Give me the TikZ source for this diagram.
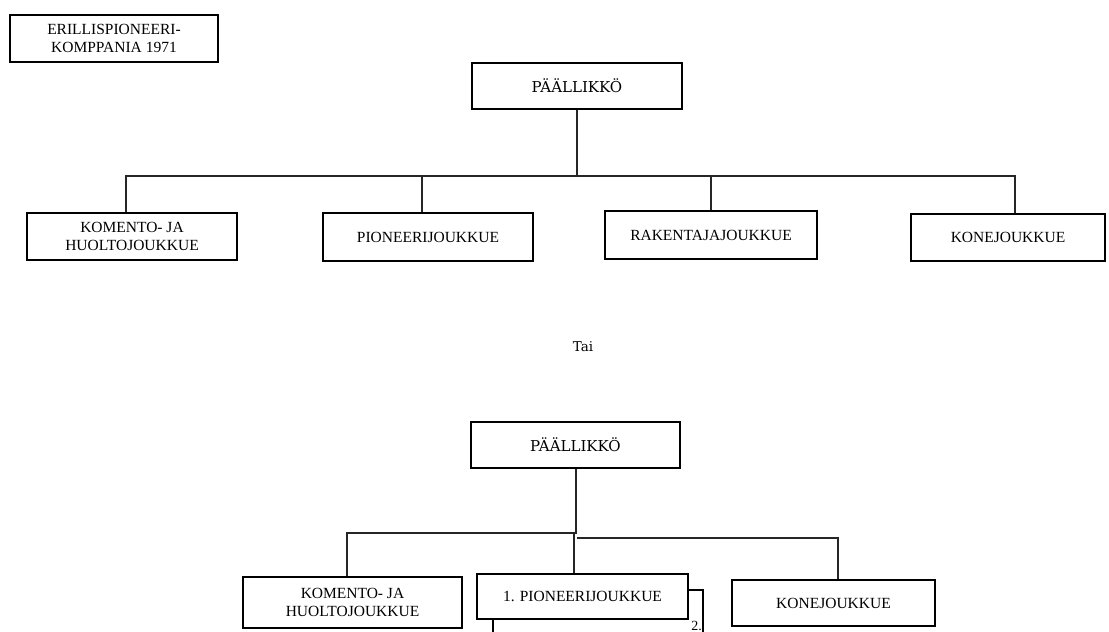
\documentclass[tikz,border=0pt]{standalone}
\usepackage{fontspec}
\setmainfont{Liberation Serif}
\newfontfamily\slabfont{DejaVu Serif}
\begin{document}
\begin{tikzpicture}[x=1pt,y=-1pt,
  box/.style={draw=black,line width=1.1pt,fill=white,rectangle,inner sep=0pt,align=center,
    font=\fontsize{15.5}{17.5}\selectfont},
  chief/.style={box,font=\slabfont\fontsize{15}{17}\selectfont},
  conn/.style={draw=black!85,line width=1.1pt}]
\useasboundingbox (0,0) rectangle (1109,632);
\clip (0,0) rectangle (1109,632);
\fill[white] (0,0) rectangle (1109,632);

% title
\node[box,minimum width=208,minimum height=47] (title) at (114,38.5) {ERILLISPIONEERI-\\KOMPPANIA 1971};

% upper tree
\node[chief,minimum width=210,minimum height=46] (p1) at (577,86) {PÄÄLLIKKÖ};
\node[box,minimum width=210,minimum height=47] (a1) at (132,236.5) {KOMENTO- JA\\HUOLTOJOUKKUE};
\node[box,minimum width=210,minimum height=48] (a2) at (428,237) {PIONEERIJOUKKUE};
\node[box,minimum width=212,minimum height=48] (a3) at (711,235) {RAKENTAJAJOUKKUE};
\node[box,minimum width=194,minimum height=47] (a4) at (1008,237.5) {KONEJOUKKUE};
\coordinate (bus1) at (577,176);
\draw[conn] (p1.south) -- (p1.south |- bus1);
\draw[conn] ([xshift=-6pt]a1.north) |- ([xshift=7pt]a4.north |- bus1) -- ([xshift=7pt]a4.north);
\draw[conn] ([xshift=-6pt]a2.north) -- ([xshift=-6pt]a2.north |- bus1);
\draw[conn] (a3.north) -- (a3.north |- bus1);

% separator
\node[font=\slabfont\fontsize{13.5}{15}\selectfont] (tai) at (583,347) {Tai};

% lower tree
\node[chief,minimum width=209,minimum height=46] (p2) at (575.5,445) {PÄÄLLIKKÖ};
\node[box,minimum width=210,minimum height=50] (b2back) at (598,615) {};
\node[box,minimum width=211,minimum height=45] (b2) at (582.5,596.5) {1. PIONEERIJOUKKUE};
\node[font=\fontsize{14}{16}\selectfont,anchor=base east,inner sep=0pt] (two) at (702,630) {2.};
\node[box,minimum width=219,minimum height=51] (b1) at (352.5,602.5) {KOMENTO- JA\\HUOLTOJOUKKUE};
\node[box,minimum width=203,minimum height=46] (b3) at (833.5,603) {KONEJOUKKUE};
\coordinate (busL) at (576,533);
\coordinate (busR) at (577,538);
\draw[conn] ([xshift=0.5pt]p2.south) -- ([xshift=0.5pt]p2.south |- busL) -- ([xshift=-5.5pt]b1.north |- busL) -- ([xshift=-5.5pt]b1.north);
\draw[conn] ([xshift=-8.5pt]b2.north |- busL) -- ([xshift=-8.5pt]b2.north);
\draw[conn] (busR) -| ([xshift=4.5pt]b3.north);
\end{tikzpicture}
\end{document}
